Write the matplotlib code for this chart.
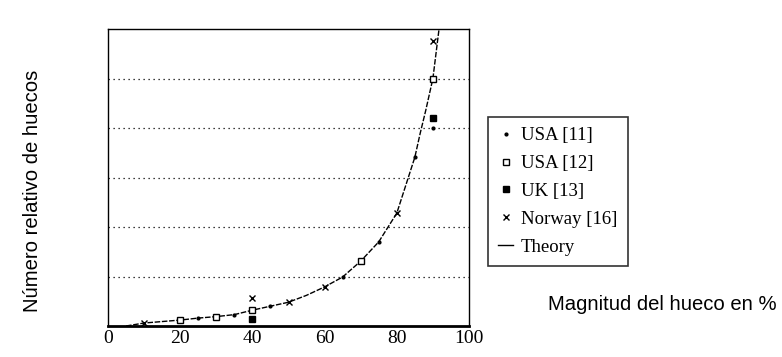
import matplotlib
matplotlib.use('Agg')
import matplotlib.pyplot as plt

# values (relative number of dips vs. dip magnitude)
theory_x = [5, 10, 20, 25, 30, 35, 40, 45, 50, 55, 60, 65, 70, 75, 80, 85, 86.5, 88, 90, 91.7]
theory_y = [0, 0.06, 0.12, 0.16, 0.19, 0.23, 0.32, 0.40, 0.48, 0.62, 0.79, 0.99, 1.31, 1.70, 2.28, 3.41, 3.9, 4.35, 5.0, 6.0]

usa11_x = [25, 35, 45, 65, 75, 85, 90]
usa11_y = [0.16, 0.22, 0.41, 0.99, 1.70, 3.41, 4.0]

usa12_x = [20, 30, 40, 70, 90]
usa12_y = [0.12, 0.18, 0.32, 1.31, 5.0]

uk_x = [40, 90]
uk_y = [0.14, 4.2]

norway_x = [10, 40, 50, 60, 80, 90]
norway_y = [0.06, 0.57, 0.48, 0.79, 2.28, 5.76]

xticks = [0, 20, 40, 60, 80, 100]
grid_levels = [1, 2, 3, 4, 5]

fig = plt.figure(figsize=(7.82, 3.57), dpi=100)
ax = fig.add_axes([108/782, 31/357, 361/782, 297/357])

for g in grid_levels:
    ax.axhline(g, color='black', lw=0.9, ls=(0, (1, 3)), zorder=1)

ax.plot(theory_x, theory_y, color='black', lw=1.0, ls=(0, (4, 1.2)), label='Theory', zorder=2)
ax.plot(usa11_x, usa11_y, ls='none', marker='.', ms=4, color='black', label='USA [11]', zorder=3)
ax.plot(usa12_x, usa12_y, ls='none', marker='s', ms=4, mfc='white', mec='black', mew=1.0,
        label='USA [12]', zorder=3)
ax.plot(uk_x, uk_y, ls='none', marker='s', ms=4.5, color='black', label='UK [13]', zorder=3)
ax.plot(norway_x, norway_y, ls='none', marker='x', ms=5, mew=1.0, color='black',
        label='Norway [16]', zorder=3)

ax.set_xlim(0, 100)
ax.set_ylim(0, 6)
ax.set_xticks(xticks)
ax.set_xticklabels([str(t) for t in xticks], family='Liberation Serif', fontsize=14)
ax.set_yticks([])
ax.tick_params(axis='x', length=0, pad=3)
for s in ax.spines.values():
    s.set_linewidth(1.0)
ax.spines['bottom'].set_linewidth(2.0)

handles, labels = ax.get_legend_handles_labels()
order = [1, 2, 3, 4, 0]
leg = ax.legend([handles[i] for i in order], [labels[i] for i in order],
                loc='upper left', bbox_to_anchor=(488/782, 1 - 117/357),
                bbox_transform=fig.transFigure, frameon=True, fancybox=False,
                edgecolor='black', prop={'family': 'Liberation Serif', 'size': 13.5},
                handlelength=0.8, handletextpad=0.4, labelspacing=0.57, borderpad=0.55,
                borderaxespad=0)
leg.get_frame().set_linewidth(1.2)
# the printed legend shows the theory line as a plain solid dash
leg.get_lines()[-1].set_linestyle('-')

fig.text(33/782, 1 - 191/357, 'Número relativo de huecos', rotation=90, ha='center', va='center',
         family='Liberation Sans', fontsize=14.6)
fig.text(548/782, 1 - 305/357, 'Magnitud del hueco en %', ha='left', va='center',
         family='Liberation Sans', fontsize=14.6)

fig.savefig('out.png', dpi=100)
